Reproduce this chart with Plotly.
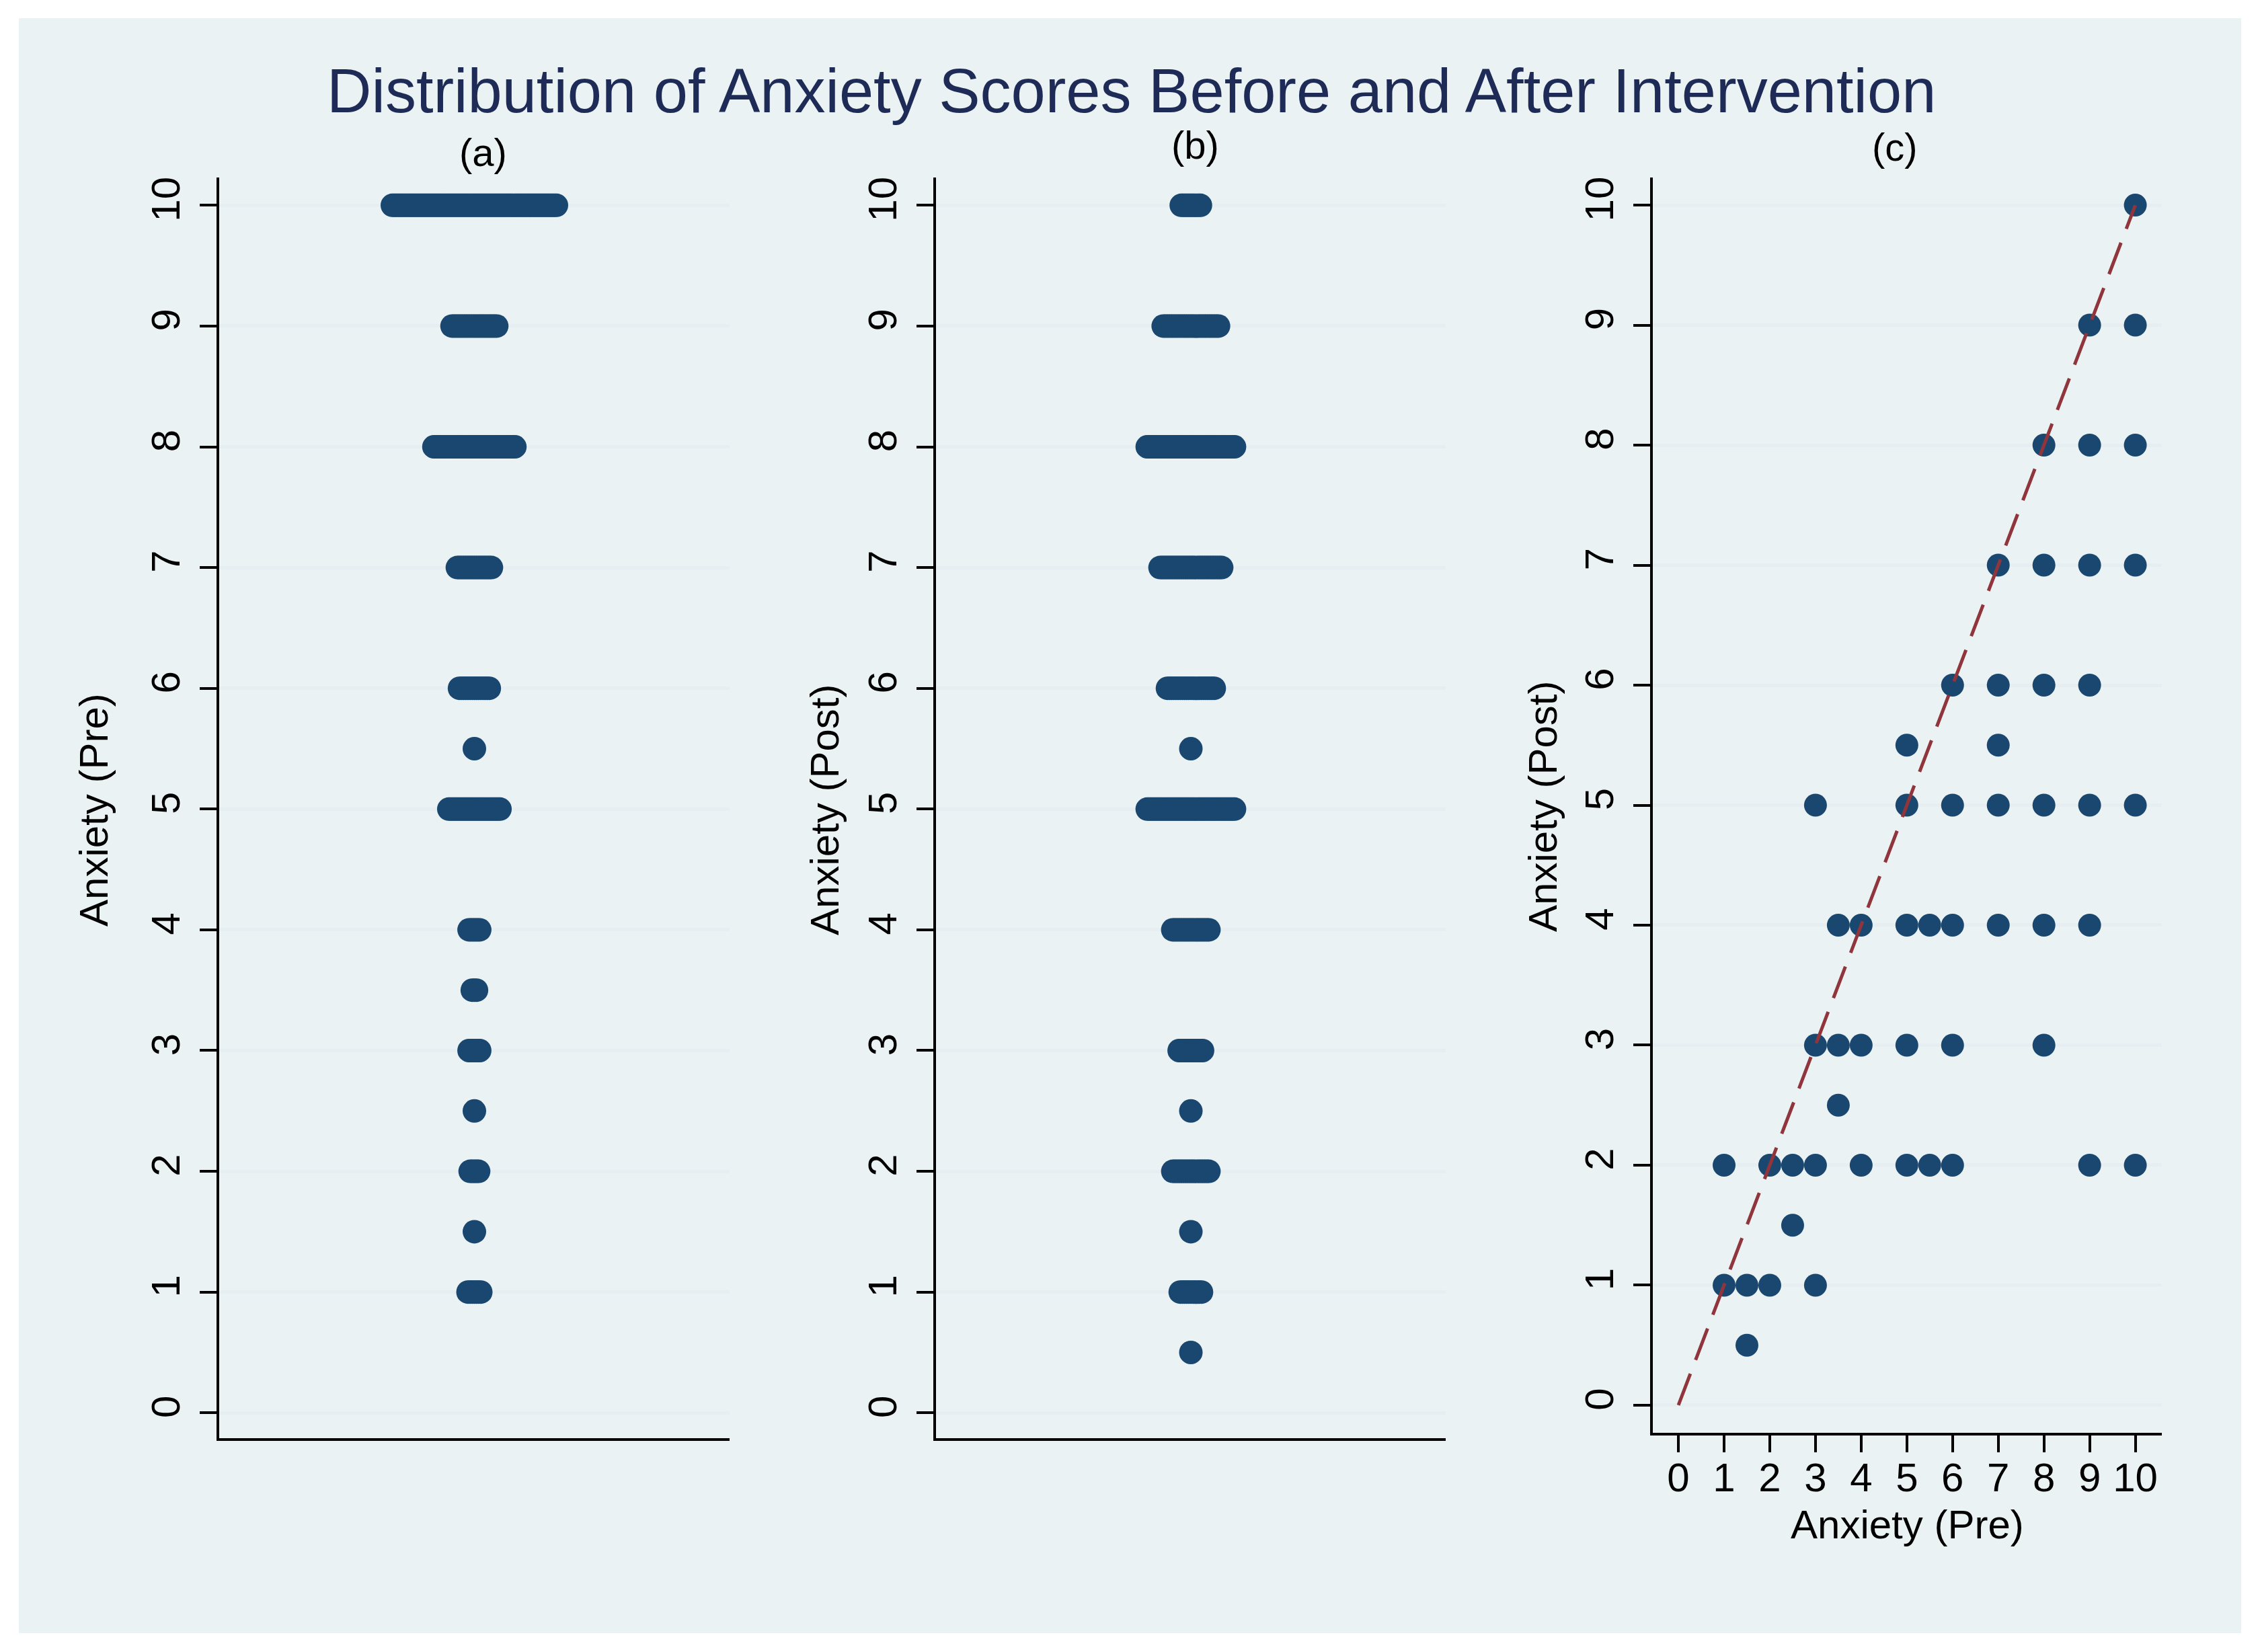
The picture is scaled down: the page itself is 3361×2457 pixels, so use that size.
import plotly.graph_objects as go

# ---------------- data ----------------
TITLE = "Distribution of Anxiety Scores Before and After Intervention"
PANEL_TITLES = ["(a)", "(b)", "(c)"]
Y_TITLE_A = "Anxiety (Pre)"
Y_TITLE_B = "Anxiety (Post)"
X_TITLE_C = "Anxiety (Pre)"

# dot plot (a): pre-intervention scores and frequency at each score
pre_levels = [1, 1.5, 2, 2.5, 3, 3.5, 4, 5, 5.5, 6, 7, 8, 9, 10]
pre_counts = [7, 1, 5, 1, 6, 3, 6, 25, 1, 15, 17, 39, 22, 78]

# dot plot (b): post-intervention scores and frequency at each score
post_levels = [0.5, 1, 1.5, 2, 2.5, 3, 4, 5, 5.5, 6, 7, 8, 9, 10]
post_counts = [1, 11, 1, 18, 1, 12, 18, 42, 1, 23, 30, 42, 27, 10]

# scatter (c): observed (pre, post) pairs
pair_post = ([10] + [9] * 2 + [8] * 3 + [7] * 4 + [6] * 4 + [5.5] * 2 + [5] * 7
             + [4] * 8 + [3] * 6 + [2.5] + [2] * 10 + [1.5] + [1] * 4 + [0.5])
pair_pre = [10,
            9, 10,
            8, 9, 10,
            7, 8, 9, 10,
            6, 7, 8, 9,
            5, 7,
            3, 5, 6, 7, 8, 9, 10,
            3.5, 4, 5, 5.5, 6, 7, 8, 9,
            3, 3.5, 4, 5, 6, 8,
            3.5,
            1, 2, 2.5, 3, 4, 5, 5.5, 6, 9, 10,
            2.5,
            1, 1.5, 2, 3,
            1.5]

identity_line = [0, 10]
y_ticks = list(range(0, 11))
x_ticks = list(range(0, 11))

# ---------------- style ----------------
W, H = 3361, 2457
OFFSET = 8  # page body margin added by the browser
NAVY = "#1A476F"
MAROON = "#90353B"
BG = "#EAF2F3"
GRID = "#E6EEF1"
TITLE_COLOR = "#1E2B56"
FONT = "Arial, Liberation Sans, sans-serif"
DOT_STEP = 0.00835  # horizontal spacing of stacked dots (x-axis units)


def px_x(p):
    return (p - OFFSET) / W


def px_y(p):
    return 1 - (p - OFFSET) / H


def dot_positions(levels, counts, step):
    xs, ys = [], []
    for v, n in zip(levels, counts):
        for i in range(n):
            xs.append((i - (n - 1) / 2) * step)
            ys.append(v)
    return xs, ys


fig = go.Figure()

xa, ya = dot_positions(pre_levels, pre_counts, DOT_STEP)
xb, yb = dot_positions(post_levels, post_counts, DOT_STEP)

fig.add_trace(go.Scatter(x=xa, y=ya, mode="markers", xaxis="x", yaxis="y",
                         marker=dict(size=35, color=NAVY, line=dict(width=0)),
                         showlegend=False))
fig.add_trace(go.Scatter(x=xb, y=yb, mode="markers", xaxis="x2", yaxis="y2",
                         marker=dict(size=35, color=NAVY, line=dict(width=0)),
                         showlegend=False))
fig.add_trace(go.Scatter(x=pair_pre, y=pair_post, mode="markers", xaxis="x3", yaxis="y3",
                         marker=dict(size=34, color=NAVY, line=dict(width=0)),
                         showlegend=False))
fig.add_trace(go.Scatter(x=identity_line, y=identity_line, mode="lines", xaxis="x3", yaxis="y3",
                         line=dict(color=MAROON, width=5, dash="50px,22px"),
                         showlegend=False))

y_dom_ab = [px_y(2139), px_y(264)]
y_dom_c = [px_y(2131), px_y(264)]

yaxis_common = dict(
    tickmode="array", tickvals=y_ticks, ticktext=[str(t) for t in y_ticks],
    ticks="outside", ticklen=25, tickwidth=4, tickcolor="black",
    tickangle=-90, tickfont=dict(family=FONT, size=60, color="black"),
    showline=True, linecolor="black", linewidth=4,
    showgrid=True, gridcolor=GRID, gridwidth=5, zeroline=False,
    ticklabelstandoff=6,
)
xaxis_dot = dict(range=[-1, 1], showticklabels=False, ticks="", showgrid=False,
                 zeroline=False, showline=True, linecolor="black", linewidth=4)

fig.update_layout(
    width=W, height=H,
    margin=dict(l=0, r=0, t=0, b=0),
    paper_bgcolor="white", plot_bgcolor="white",
    font=dict(family=FONT, color="black"),
    xaxis=dict(domain=[px_x(326), px_x(1085)], anchor="y", **xaxis_dot),
    yaxis=dict(domain=y_dom_ab, anchor="x", range=[-0.21, 10.23], **yaxis_common),
    xaxis2=dict(domain=[px_x(1392), px_x(2150)], anchor="y2", **xaxis_dot),
    yaxis2=dict(domain=y_dom_ab, anchor="x2", range=[-0.21, 10.23], **yaxis_common),
    xaxis3=dict(domain=[px_x(2458), px_x(3215)], anchor="y3", range=[-0.56, 10.58],
                tickmode="array", tickvals=x_ticks, ticktext=[str(t) for t in x_ticks],
                ticks="outside", ticklen=25, tickwidth=4, tickcolor="black",
                tickfont=dict(family=FONT, size=60, color="black"),
                showline=True, linecolor="black", linewidth=4,
                showgrid=False, zeroline=False, ticklabelstandoff=-14),
    yaxis3=dict(domain=y_dom_c, anchor="x3", range=[-0.23, 10.23], **yaxis_common),
)

fig.add_shape(type="rect", xref="paper", yref="paper",
              x0=px_x(28), x1=px_x(3333), y0=px_y(2429), y1=px_y(27),
              fillcolor=BG, line=dict(width=0), layer="below")

ann = []
ann.append(dict(text=TITLE, x=px_x(1682), y=px_y(135), font=dict(size=92, color=TITLE_COLOR)))
ann.append(dict(text=PANEL_TITLES[0], x=px_x(718), y=px_y(226), font=dict(size=58, color="black")))
ann.append(dict(text=PANEL_TITLES[1], x=px_x(1778), y=px_y(215), font=dict(size=58, color="black")))
ann.append(dict(text=PANEL_TITLES[2], x=px_x(2818), y=px_y(219), font=dict(size=58, color="black")))
ann.append(dict(text=Y_TITLE_A, x=px_x(139), y=px_y(1205), textangle=-90, font=dict(size=60, color="black")))
ann.append(dict(text=Y_TITLE_B, x=px_x(1226), y=px_y(1205), textangle=-90, font=dict(size=60, color="black")))
ann.append(dict(text=Y_TITLE_B, x=px_x(2294), y=px_y(1200), textangle=-90, font=dict(size=60, color="black")))
ann.append(dict(text=X_TITLE_C, x=px_x(2836), y=px_y(2267), font=dict(size=60, color="black")))
for a in ann:
    a.update(xref="paper", yref="paper", xanchor="center", yanchor="middle", showarrow=False)
    a["font"]["family"] = FONT
fig.update_layout(annotations=ann)

fig.write_html("out.html")
